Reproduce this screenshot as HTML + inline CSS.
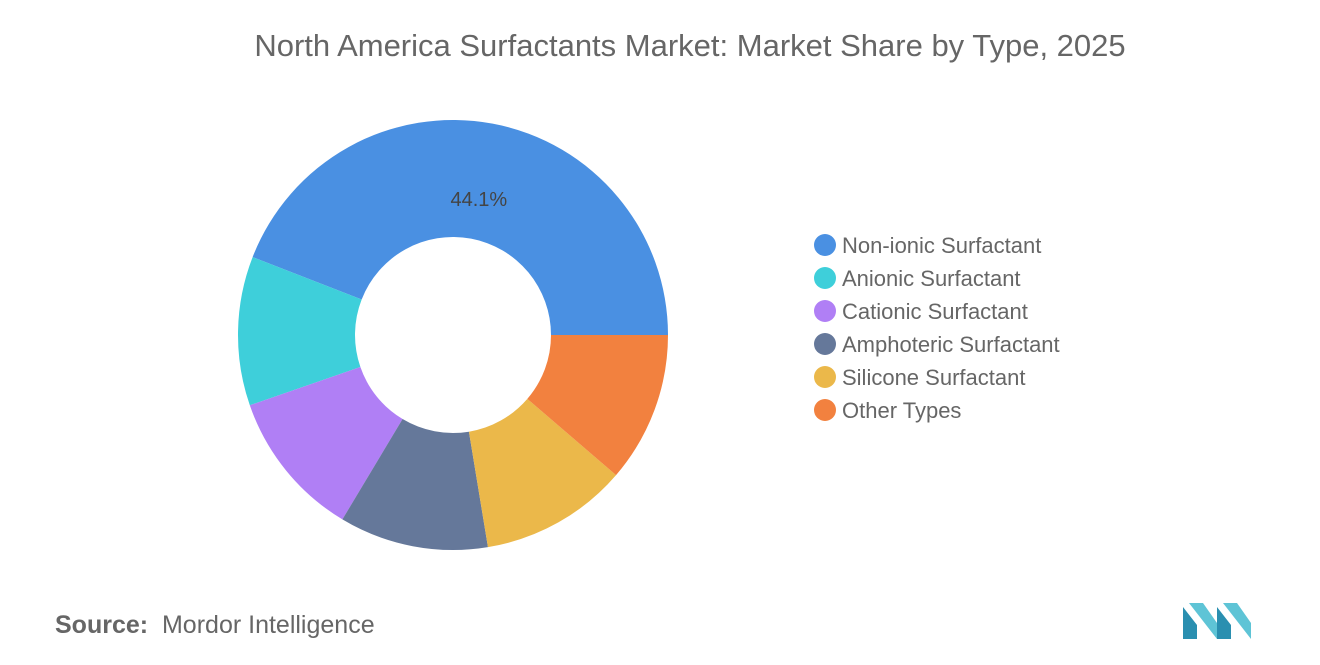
<!DOCTYPE html>
<html><head><meta charset="utf-8"><style>
body{margin:0;width:1320px;height:665px;background:#fff;font-family:"Liberation Sans",sans-serif;overflow:hidden;position:relative}
.t{position:absolute;left:0;width:1380px;top:28px;text-align:center;font-size:31px;color:#666}
.src{position:absolute;left:55px;top:611px;font-size:25px;color:#666}
</style></head><body>
<div class="t">North America Surfactants Market: Market Share by Type, 2025</div>
<svg id="c" width="1320" height="665" style="position:absolute;left:0;top:0"></svg>
<div class="src"><b style="font-weight:600">Source:</b>&nbsp; Mordor Intelligence</div>
<svg style="position:absolute;left:1183px;top:603px" width="68" height="36">
<polygon points="0,36 0,4 14,22 14,36" fill="#2a8fb0"/><polygon points="6,0 20,0 34,20 34,36" fill="#5ec4d6"/>
<polygon points="34,36 34,4 48,22 48,36" fill="#2a8fb0"/><polygon points="40,0 54,0 68,20 68,36" fill="#5ec4d6"/>
</svg>
<script>
const categories=["Non-ionic Surfactant","Anionic Surfactant","Cationic Surfactant","Amphoteric Surfactant","Silicone Surfactant","Other Types"];
const shares=[44.1,11.2,11.1,11.2,11.1,11.3];
const colors=["#4a90e2","#3ecfda","#b07ff5","#65789a","#ebb84a","#f2813f"];
const labels=["44.1%","","","","",""];
const svg=document.getElementById('c');const NS="http://www.w3.org/2000/svg";
const cx=453,cy=335,R=215,r=98;
const total=shares.reduce((a,b)=>a+b,0);
let a=0;
function pt(rad,ang){return [cx+rad*Math.cos(ang),cy-rad*Math.sin(ang)];}
shares.forEach((v,i)=>{
 const a0=a,a1=a+v/total*2*Math.PI;a=a1;
 const large=(a1-a0)>Math.PI?1:0;
 const p0=pt(R,a0),p1=pt(R,a1),q1=pt(r,a1),q0=pt(r,a0);
 const p=document.createElementNS(NS,'path');
 p.setAttribute('d',`M${p0}A${R},${R} 0 ${large} 0 ${p1}L${q1}A${r},${r} 0 ${large} 1 ${q0}Z`);
 p.setAttribute('fill',colors[i]);
 
 
 svg.appendChild(p);
 if(labels[i]){const m=(a0+a1)/2;const c=pt((R+r)/2,m);
  const t=document.createElementNS(NS,'text');t.setAttribute('x',c[0]-3);t.setAttribute('y',c[1]+25);
  t.setAttribute('text-anchor','middle');t.setAttribute('font-size','20');t.setAttribute('fill','#444');
  
  
  t.textContent=labels[i];svg.appendChild(t);}
 const ly=245+i*33;
 const c=document.createElementNS(NS,'circle');c.setAttribute('cx',825);c.setAttribute('cy',ly);c.setAttribute('r',11);c.setAttribute('fill',colors[i]);
 
 
 svg.appendChild(c);
 const t=document.createElementNS(NS,'text');t.setAttribute('x',842);t.setAttribute('y',ly+8);t.setAttribute('font-size','22');t.setAttribute('fill','#666');
 
 
 t.textContent=categories[i];svg.appendChild(t);
});
</script>
</body></html>
